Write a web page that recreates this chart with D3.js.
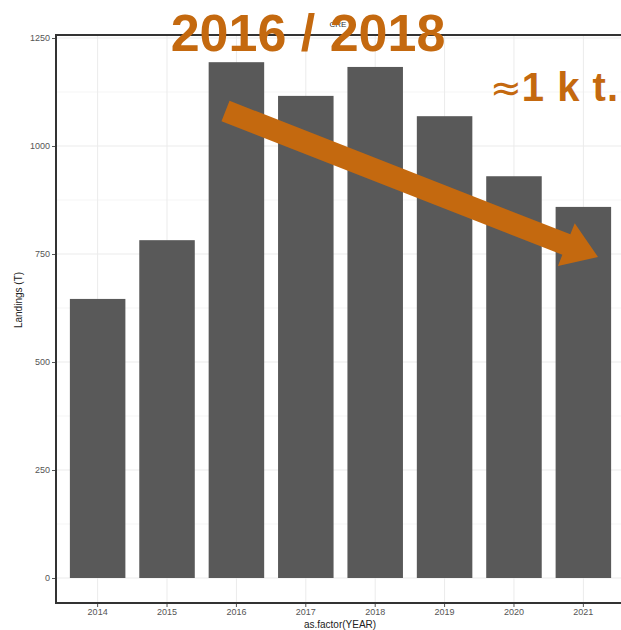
<!DOCTYPE html>
<html>
<head>
<meta charset="utf-8">
<script src="https://cdn.jsdelivr.net/npm/d3@7"></script>
<style>
  body { margin: 0; background: #fff; }
  svg { font-family: "Liberation Sans", Arial, sans-serif; }
</style>
</head>
<body>
<script>
var years = ['2014', '2015', '2016', '2017', '2018', '2019', '2020', '2021'];
var landings = [646, 782, 1194, 1116, 1183, 1069, 930, 859];
var yTicks = [0, 250, 500, 750, 1000, 1250];
var minorTicks = [125, 375, 625, 875, 1125];

var W = 621, H = 630;
var pLeft = 56, pRight = 625, pTop = 35, pBottom = 603;

var svg = d3.select("body").append("svg").attr("width", W).attr("height", H);

// escalas
var x = d3.scaleBand()
      .domain(years)
      .range([pLeft, pRight])
      .paddingInner(0.2)
      .paddingOuter(0.2);

var y = d3.scaleLinear()
      .domain([0, 1250])
      .range([578, 38]);

// grid
svg.append("g").selectAll("line")
      .data(minorTicks)
      .enter().append("line")
      .attr("x1", pLeft).attr("x2", pRight)
      .attr("y1", function (d) { return y(d); })
      .attr("y2", function (d) { return y(d); })
      .attr("stroke", "#f5f5f5").attr("stroke-width", 1);

svg.append("g").selectAll("line")
      .data(yTicks)
      .enter().append("line")
      .attr("x1", pLeft).attr("x2", pRight)
      .attr("y1", function (d) { return y(d); })
      .attr("y2", function (d) { return y(d); })
      .attr("stroke", "#ebebeb").attr("stroke-width", 1);

svg.append("g").selectAll("line")
      .data(years)
      .enter().append("line")
      .attr("y1", pTop).attr("y2", pBottom)
      .attr("x1", function (d) { return x(d) + x.bandwidth() / 2; })
      .attr("x2", function (d) { return x(d) + x.bandwidth() / 2; })
      .attr("stroke", "#ebebeb").attr("stroke-width", 1);

// barras
svg.selectAll("rect.bar")
      .data(landings)
      .enter().append("rect")
      .attr("class", "bar")
      .attr("x", function (d, i) { return x(years[i]); })
      .attr("width", x.bandwidth())
      .attr("y", function (d) { return y(d); })
      .attr("height", function (d) { return y(0) - y(d); })
      .attr("fill", "#595959");

// borde del panel
svg.append("rect")
      .attr("x", pLeft).attr("y", pTop)
      .attr("width", pRight - pLeft).attr("height", pBottom - pTop)
      .attr("fill", "none").attr("stroke", "#333").attr("stroke-width", 2);

// ejes
var yAxis = d3.axisLeft(y).tickValues(yTicks).tickFormat(d3.format("d")).tickSize(3).tickPadding(2);
var gy = svg.append("g").attr("transform", "translate(" + (pLeft - 1) + ",0)").call(yAxis);
gy.select(".domain").remove();
gy.selectAll("text").attr("font-size", 9).attr("fill", "#555");
gy.selectAll("line").attr("stroke", "#555");

var xAxis = d3.axisBottom(x).tickSize(3).tickPadding(2);
var gx = svg.append("g").attr("transform", "translate(0," + (pBottom + 1) + ")").call(xAxis);
gx.select(".domain").remove();
gx.selectAll("text").attr("font-size", 9).attr("fill", "#555");
gx.selectAll("line").attr("stroke", "#555");

svg.append("text")
      .attr("x", 340).attr("y", 628)
      .attr("text-anchor", "middle").attr("font-size", 10).attr("fill", "#222")
      .text("as.factor(YEAR)");

svg.append("text")
      .attr("transform", "translate(22,300) rotate(-90)")
      .attr("text-anchor", "middle").attr("font-size", 10).attr("fill", "#222")
      .text("Landings (T)");

svg.append("text")
      .attr("x", 338).attr("y", 27)
      .attr("text-anchor", "middle").attr("font-size", 8).attr("fill", "#333")
      .text("CRE");

// anotaciones
var orange = "#C4690F";

svg.append("text")
      .attr("x", 308).attr("y", 51)
      .attr("text-anchor", "middle").attr("font-size", 52).attr("font-weight", "bold")
      .attr("fill", orange)
      .text("2016 / 2018");

var note = svg.append("text")
      .attr("x", 619).attr("y", 101)
      .attr("text-anchor", "end").attr("font-size", 40).attr("font-weight", "bold")
      .attr("fill", orange);
note.append("tspan").attr("font-family", "DejaVu Sans").attr("font-weight", "normal")
      .attr("font-size", 38).text("≈");
note.append("tspan").attr("letter-spacing", 1).text("1 k t.");

// flecha
var p0 = [225.5, 111], p1 = [598, 257];
var ang = Math.atan2(p1[1] - p0[1], p1[0] - p0[0]);
var len = Math.hypot(p1[0] - p0[0], p1[1] - p0[1]);
var sw = 11, hw = 23, hl = 34;
var pts = [[0, -sw], [len - hl, -sw], [len - hl, -hw], [len, 0], [len - hl, hw], [len - hl, sw], [0, sw]];
svg.append("polygon")
      .attr("points", pts.map(function (p) { return p.join(","); }).join(" "))
      .attr("transform", "translate(" + p0[0] + "," + p0[1] + ") rotate(" + (ang * 180 / Math.PI) + ")")
      .attr("fill", orange);
</script>
</body>
</html>
